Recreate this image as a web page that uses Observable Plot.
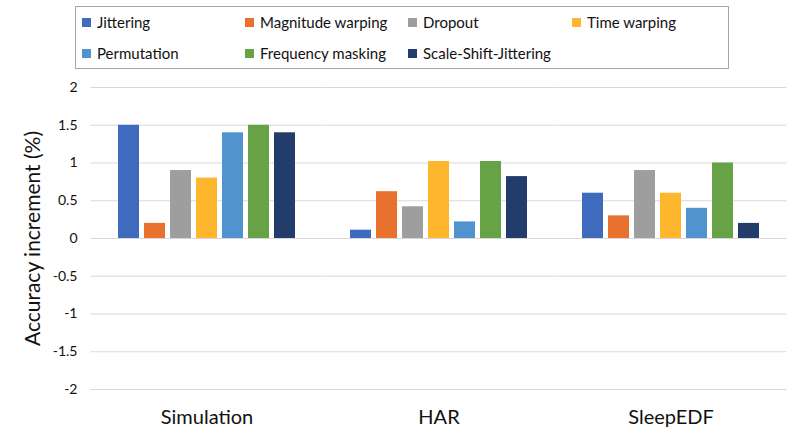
<!DOCTYPE html>
<html>
<head>
<meta charset="utf-8">
<script src="https://cdn.jsdelivr.net/npm/d3@7"></script>
<script src="https://cdn.jsdelivr.net/npm/@observablehq/plot@0.6"></script>
<style>
  body { margin: 0; background: #fff; font-family: Lato, "Open Sans", sans-serif; }
  #legend { position: relative; width: 807px; height: 75px; }
  #legend .box { position: absolute; left: 75px; top: 6px; width: 652px; height: 61px; border: 1px solid #a6a6a6; }
  #legend .item { position: absolute; display: flex; align-items: center; font-size: 15px; color: #111; white-space: nowrap; transform: translateY(-50%); }
  #legend .sw { width: 9px; height: 9px; margin-right: 6px; }
</style>
</head>
<body>
<div id="legend"><div class="box"></div></div>
<div id="chart"></div>
<script>
const datasets = ["Simulation", "HAR", "SleepEDF"];
const methods = ["Jittering", "Magnitude warping", "Dropout", "Time warping", "Permutation", "Frequency masking", "Scale-Shift-Jittering"];
const colors = ["#3F6BBE", "#E9712F", "#9E9E9E", "#FEB72C", "#5193CF", "#67A246", "#223D6C"];
const simulation = [1.5, 0.2, 0.9, 0.8, 1.4, 1.5, 1.4];
const har = [0.11, 0.62, 0.42, 1.02, 0.22, 1.02, 0.82];
const sleepedf = [0.6, 0.3, 0.9, 0.6, 0.4, 1.0, 0.2];
const yTicks = [-2, -1.5, -1, -0.5, 0, 0.5, 1, 1.5, 2];
const yTitle = "Accuracy increment (%)";

const series = [simulation, har, sleepedf];
const data = [];
datasets.forEach((d, i) => methods.forEach((m, j) => data.push({dataset: d, method: m, value: series[i][j]})));

// legend
const legend = document.getElementById("legend");
const colX = [82, 245, 408, 572];
const rowY = [22, 53];
methods.forEach((m, i) => {
  const it = document.createElement("div");
  it.className = "item";
  it.style.left = colX[i % 4] + "px";
  it.style.top = rowY[Math.floor(i / 4)] + "px";
  it.innerHTML = `<span class="sw" style="background:${colors[i]}"></span><span>${m}</span>`;
  legend.appendChild(it);
});

const chart = Plot.plot({
  width: 807,
  height: 366,
  marginTop: 12,
  marginBottom: 52,
  marginLeft: 91,
  marginRight: 20,
  style: {fontFamily: "Lato, 'Open Sans', sans-serif", color: "#111", background: "#fff"},
  fx: {domain: datasets, paddingInner: 0.166, paddingOuter: 0.078, label: null},
  x: {domain: methods, axis: null, paddingInner: 0.2, paddingOuter: 0.2},
  y: {domain: [-2, 2]},
  color: {domain: methods, range: colors},
  marks: [
    Plot.ruleY(yTicks, {y: d => d, stroke: "#d9d9d9", strokeWidth: 1.2, insetLeft: -19.5, insetRight: -19.5}),
    Plot.barY(data, {fx: "dataset", x: "method", y: "value", fill: "method"}),
    Plot.axisY({ticks: yTicks, tickSize: 0, tickPadding: 33, tickFormat: d => String(d), fontSize: 14, label: null}),
    Plot.axisY({ticks: [], tickSize: 0, label: yTitle, labelAnchor: "center", labelArrow: "none", labelOffset: 85, fontSize: 21}),
    Plot.axisFx({anchor: "bottom", tickSize: 0, tickPadding: 20, fontSize: 20, label: null})
  ]
});
document.getElementById("chart").appendChild(chart);
</script>
</body>
</html>
